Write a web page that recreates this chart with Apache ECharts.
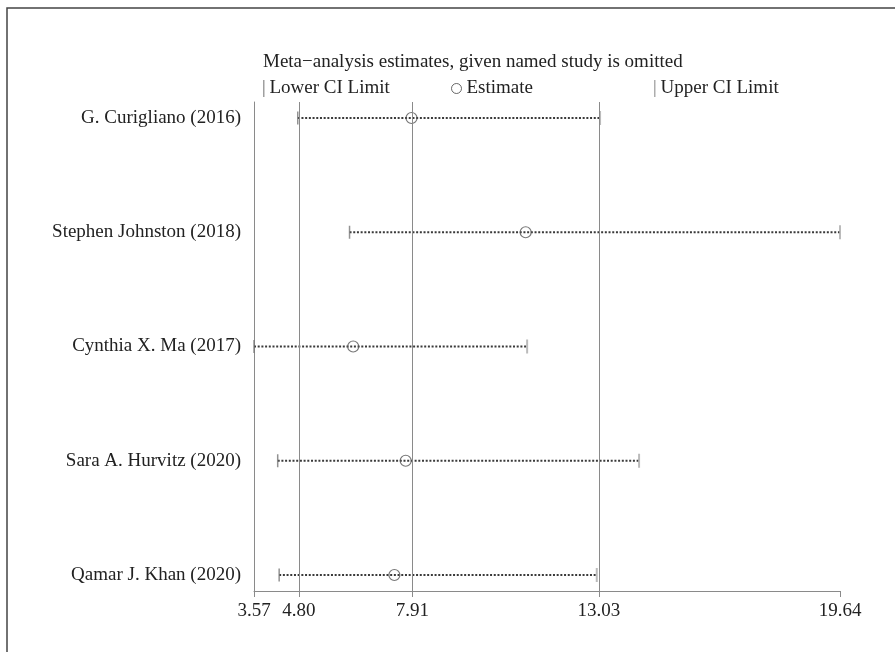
<!DOCTYPE html>
<html>
<head>
<meta charset="utf-8">
<script src="https://cdn.jsdelivr.net/npm/echarts@6/dist/echarts.min.js"></script>
<style>
html,body{margin:0;padding:0;background:#fff;}
#chart{width:895px;height:652px;}
</style>
</head>
<body>
<div id="chart"></div>
<script>
const studies = ['G. Curigliano (2016)', 'Stephen Johnston (2018)', 'Cynthia X. Ma (2017)', 'Sara A. Hurvitz (2020)', 'Qamar J. Khan (2020)'];
const lowerCI = [4.77, 6.19, 3.57, 4.22, 4.26];
const estimate = [7.89, 11.02, 6.29, 7.73, 7.42];
const upperCI = [13.06, 19.64, 11.06, 14.13, 12.97];
const refLines = [4.80, 7.91, 13.03];
const tickValues = [3.57, 4.80, 7.91, 13.03, 19.64];
const titleText = 'Meta\u2212analysis estimates, given named study is omitted';

const FONT = '"Liberation Serif", "Times New Roman", serif';
const FS = 19;
const chart = echarts.init(document.getElementById('chart'));

const rowIdx = studies.map((s, i) => i);

chart.setOption({
  animation: false,
  backgroundColor: '#fff',
  title: {
    text: titleText,
    left: 258,
    top: 48,
    textStyle: { fontFamily: FONT, fontSize: FS, fontWeight: 'normal', color: '#222' }
  },
  legend: [
    { data: ['Lower CI Limit'], left: 258, top: 74, icon: 'rect', itemWidth: 1.5, itemHeight: 17,
      itemStyle: { color: '#888' },
      textStyle: { fontFamily: FONT, fontSize: FS, color: '#222' }, selectedMode: false },
    { data: ['Estimate'], left: 446, top: 74, itemWidth: 10, itemHeight: 10,
      itemStyle: { borderWidth: 1, borderColor: '#444' },
      textStyle: { fontFamily: FONT, fontSize: FS, color: '#222' }, selectedMode: false },
    { data: ['Upper CI Limit'], left: 649, top: 74, icon: 'rect', itemWidth: 1.5, itemHeight: 17,
      itemStyle: { color: '#999' },
      textStyle: { fontFamily: FONT, fontSize: FS, color: '#222' }, selectedMode: false }
  ],
  graphic: [{
    type: 'rect', silent: true,
    shape: { x: 7, y: 8, width: 1000, height: 1000 },
    style: { fill: 'none', stroke: '#444', lineWidth: 1.5 }
  }],
  grid: { left: 254, right: 55, top: 102, bottom: 61 },
  xAxis: {
    type: 'value', min: 3.57, max: 19.64,
    axisLine: { show: true, onZero: false, lineStyle: { color: '#8a8a8a', width: 1 } },
    axisTick: { show: true, customValues: tickValues, length: 6, lineStyle: { color: '#8a8a8a' } },
    axisLabel: { customValues: tickValues, formatter: v => v.toFixed(2), margin: 11,
      fontFamily: FONT, fontSize: FS, color: '#222' },
    splitLine: { show: false }
  },
  yAxis: {
    type: 'value', min: -0.14, max: 4.14, inverse: true,
    axisLine: { show: true, onZero: false, lineStyle: { color: '#8a8a8a', width: 1 } },
    axisTick: { show: false },
    axisLabel: { customValues: rowIdx, formatter: v => studies[Math.round(v)], margin: 13,
      fontFamily: FONT, fontSize: FS, color: '#222' },
    splitLine: { show: false }
  },
  series: [
    {
      type: 'custom', name: 'CI', silent: true,
      data: studies.map((s, i) => [lowerCI[i], upperCI[i], i]),
      encode: { x: [0, 1], y: 2 },
      renderItem: function (params, api) {
        const p1 = api.coord([api.value(0), api.value(2)]);
        const p2 = api.coord([api.value(1), api.value(2)]);
        return {
          type: 'line',
          shape: { x1: p1[0], y1: p1[1], x2: p2[0], y2: p2[1] },
          style: { stroke: '#3a3a3a', lineWidth: 2, lineDash: [2, 1.7] }
        };
      },
      z: 2
    },
    {
      type: 'scatter', name: 'Lower CI Limit',
      data: lowerCI.map((v, i) => [v, i]),
      symbol: 'rect', symbolSize: [1.5, 13],
      itemStyle: { color: '#777' }, z: 3
    },
    {
      type: 'scatter', name: 'Upper CI Limit',
      data: upperCI.map((v, i) => [v, i]),
      symbol: 'rect', symbolSize: [2, 14],
      itemStyle: { color: '#aaa' }, z: 3
    },
    {
      type: 'scatter', name: 'Estimate',
      data: estimate.map((v, i) => [v, i]),
      symbol: 'circle', symbolSize: 11,
      itemStyle: { color: 'rgba(0,0,0,0)', borderColor: '#555', borderWidth: 1.2 },
      z: 4,
      markLine: {
        silent: true, symbol: 'none',
        label: { show: false },
        lineStyle: { color: '#8a8a8a', width: 1, type: 'solid' },
        data: refLines.map(v => ({ xAxis: v }))
      }
    }
  ]
});
</script>
</body>
</html>
